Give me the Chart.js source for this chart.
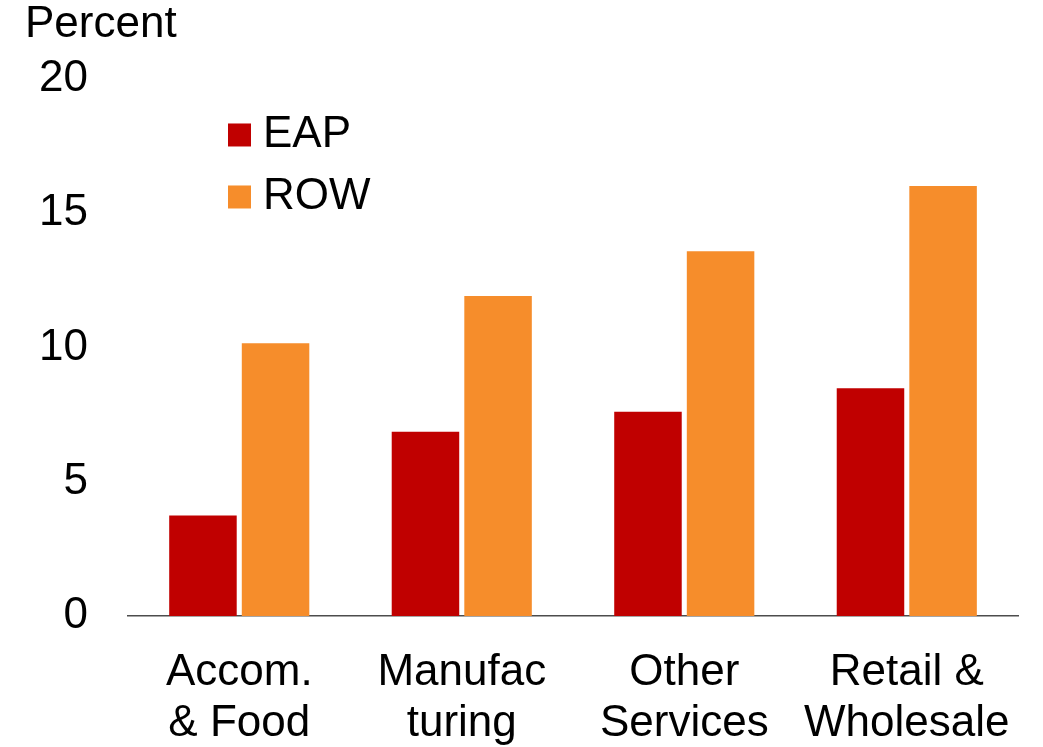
<!DOCTYPE html>
<html>
<head>
<meta charset="utf-8">
<script src="https://cdn.jsdelivr.net/npm/chart.js@4/dist/chart.umd.min.js"></script>
<style>
  html, body { margin: 0; padding: 0; background: #ffffff; overflow: hidden; }
  canvas { display: block; }
</style>
</head>
<body>
<canvas id="chart" width="1043" height="747"></canvas>
<script>
// Sectors (x-axis categories), split over two lines
const categories = [
  ['Accom.', '& Food'],
  ['Manufac', 'turing'],
  ['Other', 'Services'],
  ['Retail &', 'Wholesale']
];

// Percent, by region
const eapValues = [3.74, 6.86, 7.61, 8.48];
const rowValues = [10.16, 11.92, 13.58, 16.01];

const seriesNames = ['EAP', 'ROW'];
const yTicks = [0, 5, 10, 15, 20];

const FONT = '"Liberation Sans", Arial, Helvetica, sans-serif';
const RED = '#C00000';
const ORANGE = '#F68D2B';

// Square-marker legend drawn inside the plot area
const boxLegend = {
  id: 'boxLegend',
  afterDraw(chart) {
    const ctx = chart.ctx;
    const area = chart.chartArea;
    const x0 = area.left + 100;
    let y = area.top + 56;
    ctx.save();
    ctx.font = '44px ' + FONT;
    ctx.textBaseline = 'middle';
    ctx.textAlign = 'left';
    chart.data.datasets.forEach(ds => {
      ctx.fillStyle = ds.backgroundColor;
      ctx.fillRect(x0, y - 11.5, 23, 23);
      ctx.fillStyle = '#000000';
      ctx.fillText(ds.label, x0 + 35, y);
      y += 62;
    });
    ctx.restore();
  }
};

new Chart(document.getElementById('chart'), {
  type: 'bar',
  data: {
    labels: categories,
    datasets: [
      { label: seriesNames[0], data: eapValues, backgroundColor: RED },
      { label: seriesNames[1], data: rowValues, backgroundColor: ORANGE }
    ]
  },
  options: {
    responsive: false,
    animation: false,
    devicePixelRatio: 1,
    layout: { autoPadding: false, padding: { left: 25, right: 20, top: 0, bottom: 0 } },
    datasets: {
      bar: { categoryPercentage: 0.6525, barPercentage: 0.93 }
    },
    plugins: {
      legend: { display: false },
      tooltip: { enabled: false },
      title: {
        display: true,
        text: 'Percent',
        align: 'start',
        color: '#000000',
        font: { family: FONT, size: 44, weight: 'normal', lineHeight: 1.136 },
        padding: { top: 0, bottom: 29 }
      }
    },
    scales: {
      x: {
        grid: { display: false, drawTicks: false },
        border: { display: true, color: '#4d4d4d', width: 1.5 },
        ticks: {
          color: '#000000',
          font: { family: FONT, size: 44, lineHeight: 1.16 },
          padding: 31,
          maxRotation: 0,
          autoSkip: false
        },
        afterFit(scale) { scale.height = 131; }
      },
      y: {
        min: 0,
        max: 20,
        afterBuildTicks(scale) { scale.ticks = yTicks.map(v => ({ value: v })); },
        grid: { display: false, drawTicks: false },
        border: { display: false },
        ticks: {
          color: '#000000',
          font: { family: FONT, size: 44 },
          padding: 40
        },
        afterFit(scale) { scale.width = 103; }
      }
    }
  },
  plugins: [boxLegend]
});
</script>
</body>
</html>
